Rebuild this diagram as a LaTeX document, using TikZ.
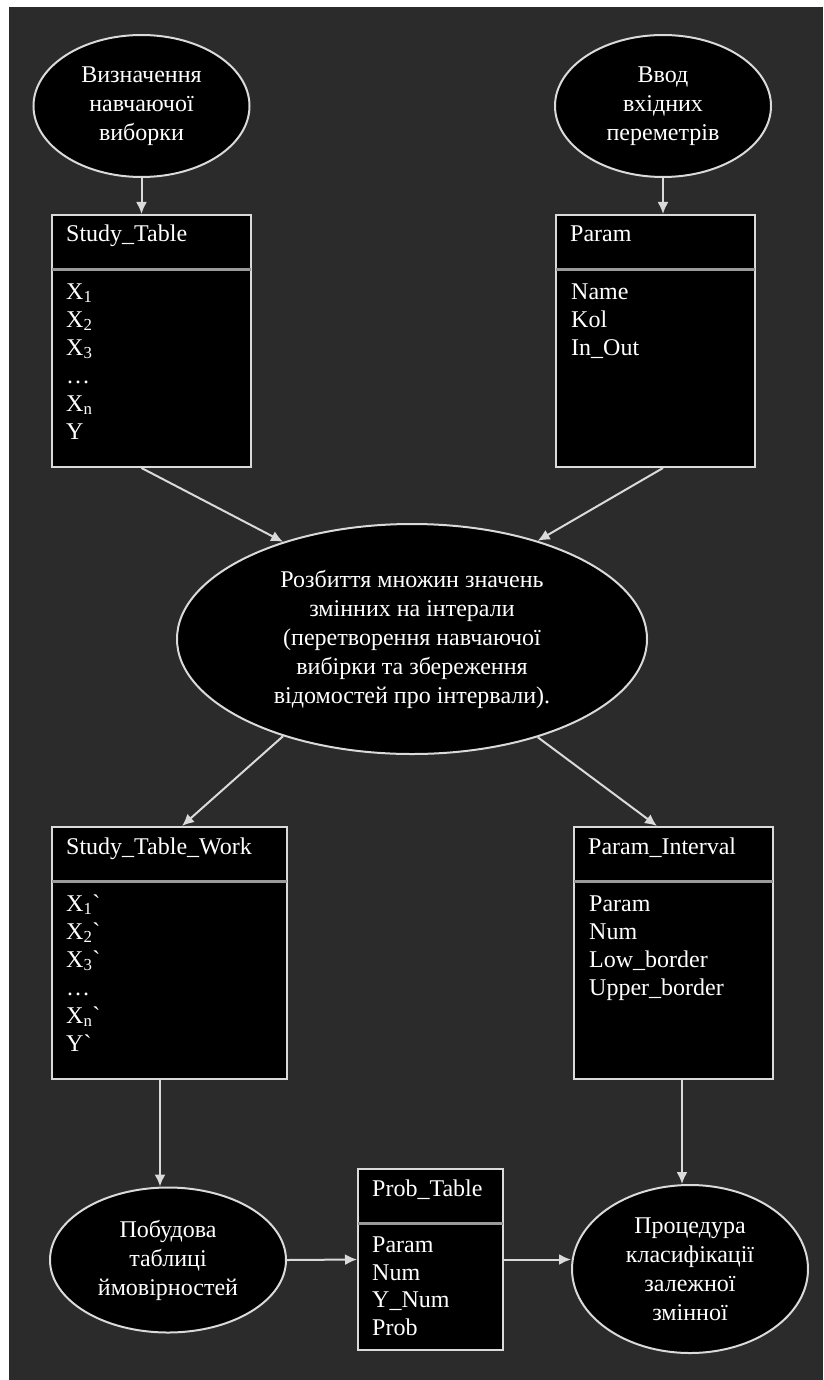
\documentclass[tikz,border=0pt]{standalone}
\usepackage{fontspec}
\setmainfont{Liberation Serif}
\usetikzlibrary{shapes.geometric, arrows.meta}
\definecolor{bggray}{HTML}{2B2B2B}
\definecolor{linegray}{HTML}{DADADA}
\definecolor{sepgray}{HTML}{9A9A9A}
\tikzset{
  process/.style={ellipse, draw=linegray, line width=2pt, fill=black, text=white,
    align=center, inner sep=0pt, font=\fontsize{24}{29}\selectfont},
  tablebox/.style={rectangle, draw=linegray, line width=2pt, fill=black, inner sep=0pt},
  field/.style={anchor=base west, inner sep=0pt, text=white, font=\fontsize{24}{28}\selectfont},
  flow/.style={-{Latex[length=12pt,width=11pt]}, draw=linegray, line width=2pt},
}
\begin{document}
\begin{tikzpicture}[x=1pt, y=-1pt]
    % Background
    \useasboundingbox (0,0) rectangle (823,1380);
    \fill[white] (0,0) rectangle (823,1380);
    \fill[bggray] (9,7) rectangle (823,1380);

    % Draw process ellipses
    \node[process, minimum width=216pt, minimum height=142pt] (def) at (141.5,106)
        {Визначення\\навчаючої\\виборки};
    \node[process, minimum width=216pt, minimum height=142pt] (input) at (663,106)
        {Ввод\\вхідних\\переметрів};
    \node[process, minimum width=470pt, minimum height=230pt] (split) at (412,639)
        {Розбиття множин значень\\змінних на інтерали\\(перетворення навчаючої\\вибірки та збереження\\відомостей про інтервали).};
    \node[process, minimum width=236pt, minimum height=145pt] (build) at (168,1260)
        {Побудова\\таблиці\\ймовірностей};
    \node[process, minimum width=236pt, minimum height=168pt] (classify) at (690,1269)
        {Процедура\\класифікації\\залежної\\змінної};

    % Draw tables
    \node[tablebox, minimum width=199pt, minimum height=252pt] (study) at (151.5,341) {};
    \node[tablebox, minimum width=199pt, minimum height=252pt] (param) at (655.5,341) {};
    \node[tablebox, minimum width=235pt, minimum height=252pt] (work) at (169.5,953) {};
    \node[tablebox, minimum width=199pt, minimum height=252pt] (interval) at (673.5,953) {};
    \node[tablebox, minimum width=145pt, minimum height=181pt] (prob) at (430.5,1259.5) {};

    % Table headers and separators
    \foreach \tbl/\ttl in {study/Study\_Table, param/Param, work/Study\_Table\_Work,
                           interval/Param\_Interval, prob/Prob\_Table} {
        \node[field] (\tbl-title) at ([xshift=15pt, yshift=-28pt]\tbl.north west) {\ttl};
        \draw[sepgray, line width=3pt] ([yshift=-55pt, xshift=1pt]\tbl.north west)
            -- ([yshift=-55pt, xshift=-1pt]\tbl.north east);
    }

    % Table fields
    \foreach \fld [count=\i] in {X\textsubscript{1}, X\textsubscript{2}, X\textsubscript{3},
                                 \dots, X\textsubscript{n}, Y}
        \node[field] (study-f\i) at ([xshift=15pt, yshift={-57pt-28pt*\i}]study.north west) {\fld};
    \foreach \fld [count=\i] in {Name, Kol, In\_Out}
        \node[field] (param-f\i) at ([xshift=16pt, yshift={-57pt-28pt*\i}]param.north west) {\fld};
    \foreach \fld [count=\i] in {X\textsubscript{1}\textasciigrave, X\textsubscript{2}\textasciigrave,
                                 X\textsubscript{3}\textasciigrave, \dots,
                                 X\textsubscript{n}\textasciigrave, Y\textasciigrave}
        \node[field] (work-f\i) at ([xshift=15pt, yshift={-57pt-28pt*\i}]work.north west) {\fld};
    \foreach \fld [count=\i] in {Param, Num, Low\_border, Upper\_border}
        \node[field] (interval-f\i) at ([xshift=16pt, yshift={-57pt-28pt*\i}]interval.north west) {\fld};
    \foreach \fld [count=\i] in {Param, Num, Y\_Num, Prob}
        \node[field] (prob-f\i) at ([xshift=15pt, yshift={-57pt-27.5pt*\i}]prob.north west) {\fld};

    % Draw connectors
    \draw[flow] (def.south) -- (def.south |- study.north);
    \draw[flow] (input.south) -- (input.south |- param.north);
    \draw[flow] (def.south |- study.south) -- (split.143);
    \draw[flow] (input.south |- param.south) -- (split.38);
    \draw[flow] (split.217) -- ([xshift=12.5pt]work.north);
    \draw[flow] (split.322) -- ([xshift=-16.5pt]interval.north);
    \draw[flow] ([xshift=-9.5pt]work.south) -- ([xshift=-8pt]build.north);
    \draw[flow] ([xshift=8.5pt]interval.south) -- ([xshift=-8pt]classify.north);
    \draw[flow] (build.east) -- (prob.west);
    \draw[flow] (prob.east) -- (prob.east -| classify.west);
\end{tikzpicture}
\end{document}
